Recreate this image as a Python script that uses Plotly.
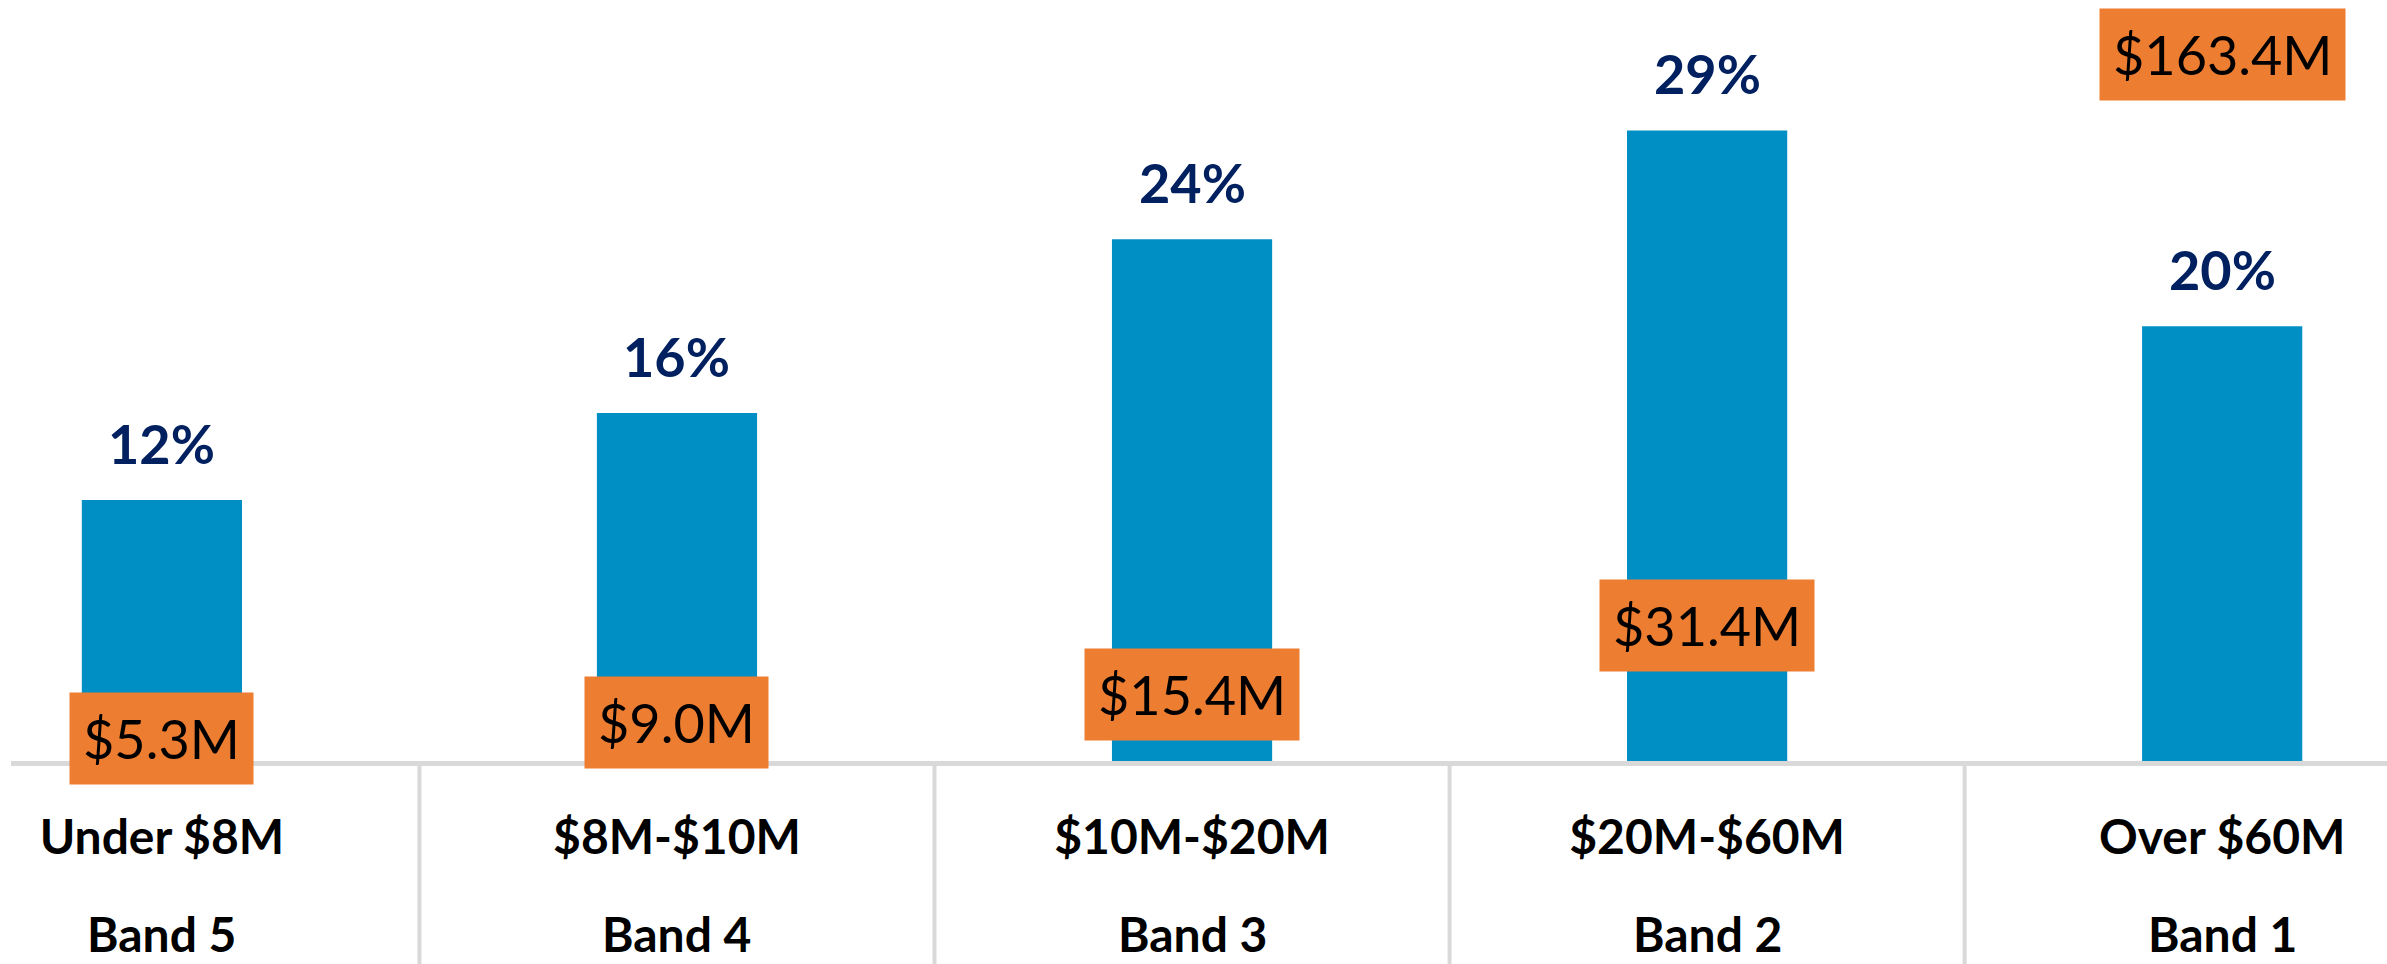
import plotly.graph_objects as go

# Revenue bands: share of total (bars) and revenue per band (orange call-outs)
ranges = ["Under $8M", "$8M-$10M", "$10M-$20M", "$20M-$60M", "Over $60M"]
bands = ["Band 5", "Band 4", "Band 3", "Band 2", "Band 1"]
share_pct = [12, 16, 24, 29, 20]
revenue_m = [5.3, 9.0, 15.4, 31.4, 163.4]

BAR_BLUE = "#008FC4"
NAVY = "#002060"
ORANGE = "#ED7D31"
GRID = "#D9D9D9"
FONT = "Lato"

W, H = 2387, 964
M_L, M_R, M_T, M_B = 11, 0, 0, 203
plot_h = H - M_T - M_B

pos = list(range(len(ranges)))

fig = go.Figure()
fig.add_trace(go.Bar(
    x=pos, y=share_pct, marker=dict(color=BAR_BLUE, line=dict(width=0)),
    hoverinfo="skip", showlegend=False,
))
# revenue series lives on a hidden secondary axis; only its labels are shown
fig.add_trace(go.Scatter(
    x=pos, y=revenue_m, yaxis="y2", mode="markers",
    marker=dict(opacity=0), hoverinfo="skip", showlegend=False,
))

annotations = []
for xi, p in zip(pos, share_pct):
    annotations.append(dict(
        x=xi, y=p, xref="x", yref="y", text=f"{p}%", showarrow=False,
        xanchor="center", yanchor="bottom", yshift=22,
        font=dict(family=FONT, size=54, color=NAVY, weight=700),
    ))
for xi, v in zip(pos, revenue_m):
    annotations.append(dict(
        x=xi, y=v, xref="x", yref="y2", text=f"${v:.1f}M", showarrow=False,
        xanchor="center", yanchor="middle",
        bgcolor=ORANGE, borderpad=13,
        font=dict(family=FONT, size=54, color="#000000"),
    ))
for xi, b in zip(pos, bands):
    annotations.append(dict(
        x=xi, y=0, xref="x", yref="paper", text=b, showarrow=False,
        xanchor="center", yanchor="middle", yshift=-172,
        font=dict(family=FONT, size=48, color="#000000", weight=700),
    ))

# vertical dividers between categories, running through both label rows
shapes = []
for xi in pos[:-1]:
    shapes.append(dict(
        type="line", xref="x", yref="paper",
        x0=xi + 0.5, x1=xi + 0.5, y0=0, y1=-(M_B + 5) / plot_h,
        line=dict(color=GRID, width=4),
    ))

fig.update_layout(
    width=W, height=H,
    margin=dict(l=M_L, r=M_R, t=M_T, b=M_B),
    paper_bgcolor="white", plot_bgcolor="white",
    bargap=0.689,
    xaxis=dict(
        range=[-0.293, 4.32], tickmode="array", tickvals=pos, ticktext=ranges,
        showline=True, linecolor=GRID, linewidth=5,
        showgrid=False, zeroline=False, ticks="",
        ticklabelstandoff=30,
        tickfont=dict(family=FONT, size=48, color="#000000", weight=700),
    ),
    yaxis=dict(range=[0, 35], visible=False, fixedrange=True),
    yaxis2=dict(range=[0, 176], overlaying="y", visible=False),
    annotations=annotations,
    shapes=shapes,
)

fig.write_html("out.html")
